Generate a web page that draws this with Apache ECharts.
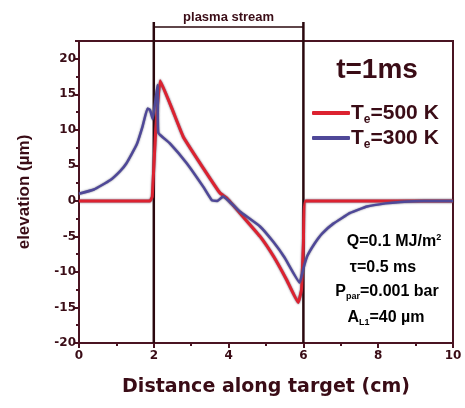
<!DOCTYPE html>
<html><head><meta charset="utf-8">
<script src="https://cdn.jsdelivr.net/npm/echarts@6/dist/echarts.min.js"></script>
<style>html,body{margin:0;padding:0;background:#fff}#c{width:465px;height:408px}</style>
</head><body><div id="c"></div>
<script>
// ---- data ----
const xTicks = [0, 2, 4, 6, 8, 10];
const yTicks = [-20, -15, -10, -5, 0, 5, 10, 15, 20];
const stream = [2, 6];
const redName = 'Te=500 K';
const blueName = 'Te=300 K';
const redX = [0, 1.9, 1.96, 2.05, 2.17, 2.5, 2.79, 3.41, 3.77, 3.95, 4.3, 4.84, 5.2, 5.55, 5.86, 5.95, 6.0, 6.06, 10];
const redY = [0, 0, 0.6, 10, 16.9, 12.8, 9.0, 3.9, 1.1, 0.4, -1.7, -5.0, -7.8, -11.1, -14.3, -12.5, -6, 0, 0];
const blueX = [0, 0.4, 0.83, 1.1, 1.27, 1.54, 1.7, 1.83, 1.9, 1.97, 2.1, 2.12, 2.43, 2.88, 3.32, 3.55, 3.7, 3.85, 4.3, 4.84, 5.2, 5.5, 5.9, 6.0, 6.1, 6.3, 6.5, 6.8, 7.25, 7.7, 8.2, 8.6, 9.2, 10];
const blueY = [1.0, 1.6, 2.9, 4.2, 5.3, 7.9, 10.5, 13, 12.8, 11.5, 16.3, 9.6, 8.1, 5.3, 2.0, 0.1, 0, 0.6, -1.5, -3.6, -5.8, -8.0, -11.5, -9.5, -7.8, -6.0, -4.6, -3.2, -1.7, -0.8, -0.35, -0.15, 0, 0];

const dark = '#3a0c16';
const axisC = '#4a1422';
const FF = '"Liberation Sans", Arial, sans-serif';
const FW = '"DejaVu Sans", sans-serif';
const pair = (xs, ys) => xs.map((x, i) => [x, ys[i]]);

const chart = echarts.init(document.getElementById('c'));
const richLeg = {
  t: {fontFamily: FF, fontWeight: 'bold', fontSize: 21, color: dark, lineHeight: 26, verticalAlign: 'middle'},
  s: {fontFamily: FF, fontWeight: 'bold', fontSize: 12, color: dark, lineHeight: 26, verticalAlign: 'bottom', padding: [12, 0, 0, 0]}
};
chart.setOption({
  animation: false,
  grid: {left: 79, right: 12, top: 41, bottom: 65, show: true, borderColor: axisC, borderWidth: 2},
  xAxis: {
    type: 'value', min: 0, max: 10, interval: 2,
    name: 'Distance along target (cm)', nameLocation: 'middle', nameGap: 35,
    nameTextStyle: {fontFamily: FW, fontWeight: 'bold', fontSize: 19, color: dark},
    axisLine: {onZero: false, lineStyle: {color: axisC, width: 2}},
    axisTick: {show: true, length: 5, lineStyle: {color: axisC, width: 2}},
    minorTick: {show: true, splitNumber: 2, length: 3, lineStyle: {color: axisC, width: 2}},
    splitLine: {show: false},
    axisLabel: {fontFamily: FW, fontWeight: 'bold', fontSize: 12, color: dark, margin: 7,
      formatter: v => xTicks.includes(v) ? String(v) : ''}
  },
  yAxis: {
    type: 'value', min: -20, max: 22.5, interval: 5,
    name: 'elevation (\u00b5m)', nameLocation: 'middle', nameGap: 46,
    nameTextStyle: {fontFamily: FF, fontWeight: 'bold', fontSize: 17, color: dark},
    axisLine: {onZero: false, lineStyle: {color: axisC, width: 2}},
    axisTick: {show: true, length: 4, lineStyle: {color: axisC, width: 2}},
    minorTick: {show: true, splitNumber: 2, length: 3, lineStyle: {color: axisC, width: 2}},
    splitLine: {show: false},
    axisLabel: {fontFamily: FW, fontWeight: 'bold', fontSize: 12, color: dark, margin: 3, showMaxLabel: false,
      formatter: v => yTicks.includes(v) ? String(v) : ''}
  },
  legend: {
    data: [redName, blueName], orient: 'vertical', left: 307, top: 97, itemGap: 1,
    icon: 'roundRect', itemWidth: 38, itemHeight: 4,
    textStyle: {rich: richLeg, padding: [0, 0, 0, -4]},
    formatter: n => n === redName ? '{t|T}{s|e}{t|=500 K}' : '{t|T}{s|e}{t|=300 K}'
  },
  series: [
    {name: redName, type: 'line', data: pair(redX, redY), showSymbol: false, smooth: 0.1, z: 3,
     color: '#dc2230',
     lineStyle: {width: 3, color: '#dc2230', shadowColor: 'rgba(60,30,60,0.8)', shadowBlur: 2}},
    {name: blueName, type: 'line', data: pair(blueX, blueY), showSymbol: false, smooth: 0.1, z: 4,
     color: '#4f4898',
     lineStyle: {width: 2.5, color: '#4f4898', shadowColor: 'rgba(90,90,110,0.8)', shadowBlur: 2}}
  ]
});

// plasma stream bracket and annotations
const pA = chart.convertToPixel({gridIndex: 0}, [stream[0], -20]);
const pB = chart.convertToPixel({gridIndex: 0}, [stream[1], -20]);
const topY = 22, barY = 27;
const lineSt = {stroke: '#2a080e', lineWidth: 2.5};
const annR = {
  a: {fontFamily: FF, fontWeight: 'bold', fontSize: 16, color: dark, lineHeight: 20},
  sub: {fontFamily: FF, fontWeight: 'bold', fontSize: 9, color: dark, lineHeight: 20, padding: [10, 0, 0, 0]},
  sup: {fontFamily: FF, fontWeight: 'bold', fontSize: 9, color: dark, lineHeight: 20, padding: [0, 0, 9, 0]}
};
chart.setOption({
  graphic: [
    {type: 'line', z: 1, shape: {x1: pA[0], y1: topY, x2: pA[0], y2: pA[1]}, style: lineSt},
    {type: 'line', z: 1, shape: {x1: pB[0], y1: topY, x2: pB[0], y2: pB[1]}, style: lineSt},
    {type: 'line', z: 1, shape: {x1: pA[0], y1: barY, x2: pB[0], y2: barY}, style: {stroke: '#2a080e', lineWidth: 1.5}},
    {type: 'text', z: 10, x: (pA[0] + pB[0]) / 2, y: 17,
     style: {text: 'plasma stream', font: 'bold 13px ' + FF, fill: dark, textAlign: 'center', textVerticalAlign: 'middle'}},
    {type: 'text', z: 10, x: 377, y: 70,
     style: {text: 't=1ms', font: 'bold 28px ' + FF, fill: dark, textAlign: 'center', textVerticalAlign: 'middle'}},
    {type: 'text', z: 10, x: 394, y: 242,
     style: {text: '{a|Q=0.1 MJ/m}{sup|2}', rich: annR, textAlign: 'center', textVerticalAlign: 'middle'}},
    {type: 'text', z: 10, x: 383, y: 268,
     style: {text: '{a|\u03c4=0.5 ms}', rich: annR, textAlign: 'center', textVerticalAlign: 'middle'}},
    {type: 'text', z: 10, x: 387, y: 292,
     style: {text: '{a|P}{sub|par}{a|=0.001 bar}', rich: annR, textAlign: 'center', textVerticalAlign: 'middle'}},
    {type: 'text', z: 10, x: 386, y: 318,
     style: {text: '{a|A}{sub|L1}{a|=40 \u00b5m}', rich: annR, textAlign: 'center', textVerticalAlign: 'middle'}}
  ]
});
</script>
</body></html>
